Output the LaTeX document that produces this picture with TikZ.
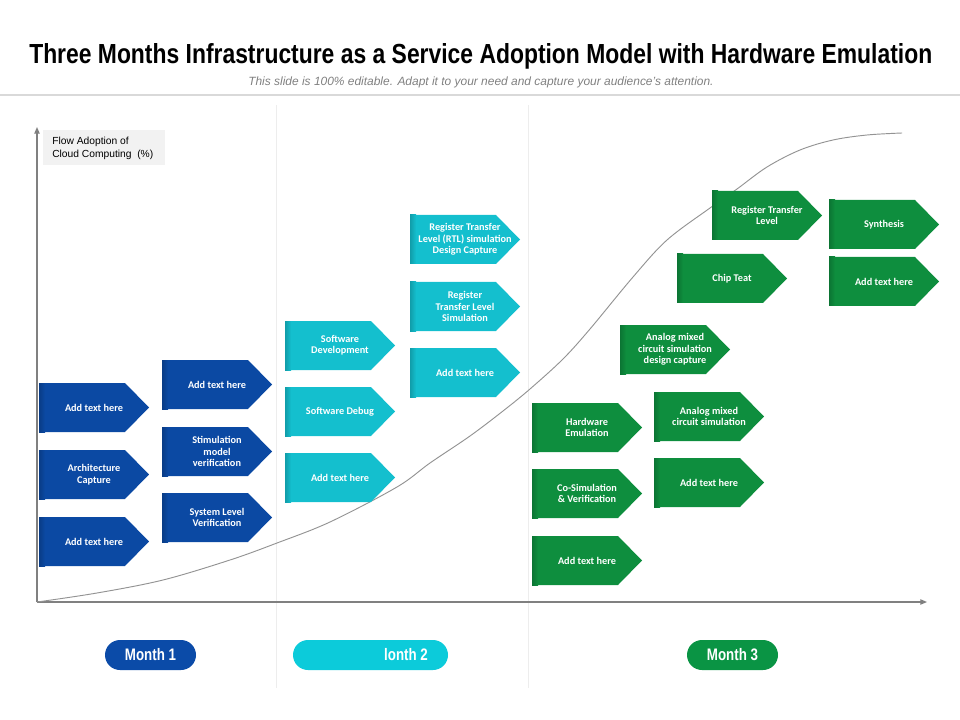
\documentclass[tikz,border=0pt]{standalone}
\usepackage{fontspec}
\usepackage{graphicx}
\setmainfont{Liberation Sans}
\newfontfamily\boxfont{Carlito}
\usetikzlibrary{arrows.meta}
\definecolor{cblue}{HTML}{0B49A3}
\definecolor{ccyan}{HTML}{14BFCE}
\definecolor{cgreen}{HTML}{0E8E3E}
\definecolor{pblue}{HTML}{0B4BA8}
\definecolor{pcyan}{HTML}{0CCBDA}
\definecolor{pgreen}{HTML}{0A9444}
\definecolor{lblgray}{HTML}{F2F2F2}
\definecolor{divgray}{HTML}{EDEDED}
\definecolor{axgray}{HTML}{808080}
\definecolor{subgray}{HTML}{808080}
\tikzset{
  boxtext/.style={text=white, font=\boxfont\bfseries\fontsize{7.7}{8.6}\selectfont, align=center, inner sep=0pt},
  pill/.style={minimum height=22.5pt, rounded corners=11.25pt, inner sep=0pt},
  pilltext/.style={text=white, font=\bfseries\fontsize{12.5}{12.5}\selectfont, inner sep=0pt},
  axisline/.style={draw=axgray, line width=0.9pt, -{Triangle[length=5pt,width=4pt]}},
  divider/.style={draw=divgray, line width=0.75pt},
  curveline/.style={draw=axgray!85, line width=0.7pt}
}
\newcommand{\abox}[5]{%
  \fill[#4] (#2,#3) -- ++(86,0) -- ++(24,24.5) -- ++(-24,24.5) -- ++(-86,0) -- cycle;
  \shade[left color=#4!82!black, right color=#4] (#2,#3) rectangle ++(6,49);
  \node[boxtext] (#1) at ({#2+55},{#3+24.5}) {#5};
}
\newcommand{\cond}[1]{\scalebox{0.8}[1]{#1}}
\begin{document}
\begin{tikzpicture}[x=0.75pt,y=-0.75pt]
\useasboundingbox (0,0) rectangle (960,720);
% title
\node[anchor=base west, inner sep=0pt] (title) at (29,64)
  {\resizebox{677.25pt}{15pt}{\bfseries Three Months Infrastructure as a Service Adoption Model with Hardware Emulation}};
\node[anchor=base west, inner sep=0pt, text=subgray] (subtitle) at (248,86)
  {\resizebox{349pt}{!}{\itshape\fontsize{8}{8}\selectfont This slide is 100\% editable. Adapt it to your need and capture your audience’s attention.}};
\coordinate (hl0) at (0,95);
\coordinate (hl1) at (960,95);
\draw[draw=black!15, line width=0.8pt] (hl0) -- (hl1);
% dividers
\coordinate (d1a) at (276,105); \coordinate (d1b) at (276,688);
\coordinate (d2a) at (528,105); \coordinate (d2b) at (528,688);
\draw[divider] (d1a) -- (d1b);
\draw[divider] (d2a) -- (d2b);
% axes
\coordinate (org) at (37,602);
\coordinate (ytop) at (37,127);
\coordinate (xend) at (927,602);
\draw[axisline] (org) -- (ytop);
\draw[axisline] (org) -- (xend);
\fill[lblgray] (43,130) rectangle (165,165);
\node[anchor=north west, inner sep=0pt, align=left, font=\fontsize{7.7}{9.75}\selectfont] (ylab) at (52,137)
  {Flow Adoption of\\Cloud Computing~ (\%)};
% curve
\draw[curveline] plot[smooth, tension=0.55] coordinates {
 (37,602) (97,593) (163,580) (230,560) (277,543) (330,522) (397,487) (430,463) (470,436)
 (503,411) (530,389) (563,359) (590,329) (633,277) (667,240) (710,208) (737,189)
 (767,167) (800,150) (833,140) (867,135) (902,133)};
% blue boxes
\abox{b1}{39}{383}{cblue}{Add text here}
\abox{b2}{39}{450}{cblue}{Architecture\\Capture}
\abox{b3}{39}{517}{cblue}{Add text here}
\abox{b4}{162}{360}{cblue}{Add text here}
\abox{b5}{162}{427}{cblue}{Stimulation\\model\\verification}
\abox{b6}{162}{493}{cblue}{System Level\\Verification}
% cyan boxes
\abox{c1}{285}{321}{ccyan}{Software\\Development}
\abox{c2}{285}{387}{ccyan}{Software Debug}
\abox{c3}{285}{453}{ccyan}{Add text here}
\abox{c4}{410}{215}{ccyan}{Register Transfer\\Level (RTL) simulation\\Design Capture}
\abox{c5}{410}{282}{ccyan}{Register\\Transfer Level\\Simulation}
\abox{c6}{410}{348}{ccyan}{Add text here}
% green boxes
\abox{g1}{532}{403}{cgreen}{Hardware\\Emulation}
\abox{g2}{532}{469}{cgreen}{Co-Simulation\\\& Verification}
\abox{g3}{532}{536}{cgreen}{Add text here}
\abox{g4}{654}{392}{cgreen}{Analog mixed\\circuit simulation}
\abox{g5}{654}{458}{cgreen}{Add text here}
\abox{g6}{620}{325}{cgreen}{Analog mixed\\circuit simulation\\design capture}
\abox{g7}{677}{254}{cgreen}{Chip Teat}
\abox{g8}{712}{191}{cgreen}{Register Transfer\\Level}
\abox{g9}{829}{200}{cgreen}{Synthesis}
\abox{g10}{829}{257}{cgreen}{Add text here}
% month pills
\node[pill, fill=pblue, minimum width=68.25pt] (m1) at (150.5,655) {};
\node[pilltext] (m1t) at (150.5,655) {\cond{Month 1}};
\node[pill, fill=pcyan, minimum width=116.25pt] (m2) at (370.5,655) {};
\node[pilltext] (m2t) at (406,655) {\cond{lonth 2}};
\node[pill, fill=pgreen, minimum width=68.25pt] (m3) at (732.5,655) {};
\node[pilltext] (m3t) at (732.5,655) {\cond{Month 3}};
\end{tikzpicture}
\end{document}
